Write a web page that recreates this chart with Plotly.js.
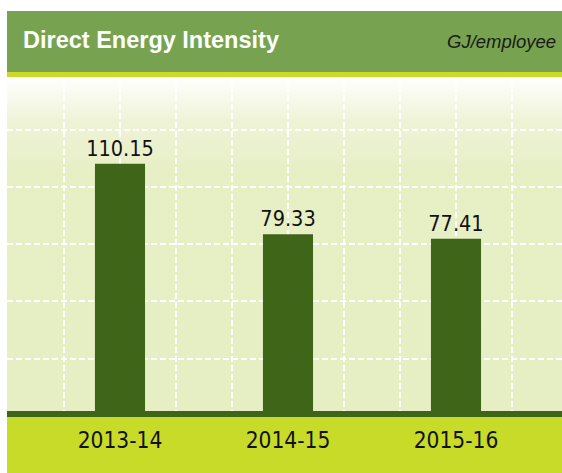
<!DOCTYPE html>
<html>
<head>
<meta charset="utf-8">
<script src="https://cdn.plot.ly/plotly-3.0.1.min.js"></script>
<style>
  html, body { margin: 0; padding: 0; background: #ffffff; }
  #bg { position: absolute; left: 7px; top: 77px; width: 555px; height: 339px;
        background: linear-gradient(to bottom, #ffffff 0px, #eef3d6 45px, #e7efc5 95px, #e6eec4 100%); }
  #chart { position: absolute; left: 0; top: 0; width: 562px; height: 473px; }
</style>
</head>
<body>
<div id="bg"></div>
<div id="chart"></div>
<script>
const categories = ["2013-14", "2014-15", "2015-16"];
const intensity = [110.15, 79.33, 77.41];
const chartTitle = "Direct Energy Intensity";
const unitLabel = "GJ/employee";

const positions = categories.map((c, i) => i);

const narrow = "'Liberation Sans Narrow', 'DejaVu Sans Condensed', 'Liberation Sans', sans-serif";

const trace = {
  type: "bar",
  x: positions,
  y: intensity,
  marker: { color: "#3f6519", line: { width: 0 } },
  texttemplate: "%{y:.2f}",
  textposition: "outside",
  constraintext: "none",
  cliponaxis: false,
  textfont: { family: narrow, size: 21.5, color: "#111111" },
  hoverinfo: "skip"
};

const grid = { color: "#ffffff", dash: "6px,3px" };

const layout = {
  width: 562,
  height: 473,
  margin: { l: 7, r: 0, t: 77, b: 57, pad: 0 },
  paper_bgcolor: "rgba(0,0,0,0)",
  plot_bgcolor: "rgba(0,0,0,0)",
  showlegend: false,
  bargap: 0.702,
  title: {
    text: "<b>" + chartTitle + "</b>",
    font: { family: "'Liberation Sans', Arial, sans-serif", size: 23.5, color: "#ffffff" },
    xref: "container", yref: "container",
    x: 23 / 562, xanchor: "left",
    y: 1 - 40 / 473, yanchor: "middle"
  },
  annotations: [{
    text: "<i>" + unitLabel + "</i>",
    xref: "paper", yref: "paper",
    x: 1, xanchor: "right", xshift: -4,
    y: 1, yanchor: "middle", yshift: 36,
    showarrow: false,
    font: { family: "'Liberation Sans', Arial, sans-serif", size: 18.5, color: "#1a1a1a" }
  }],
  xaxis: {
    type: "linear",
    range: [-0.6726, 2.631],
    tickvals: positions,
    ticktext: categories,
    ticks: "",
    showline: false,
    zeroline: false,
    showgrid: true,
    gridcolor: grid.color, gridwidth: 2, griddash: grid.dash,
    minor: { dtick: 1 / 3, tick0: 0, showgrid: true, gridcolor: grid.color, gridwidth: 2, griddash: grid.dash, ticks: "" },
    tickfont: { family: narrow, size: 22.5, color: "#111111" },
    ticklabelstandoff: 8,
    fixedrange: true
  },
  yaxis: {
    range: [0, 148],
    dtick: 25,
    tick0: 0,
    showticklabels: false,
    ticks: "",
    zeroline: false,
    showline: false,
    showgrid: true,
    gridcolor: grid.color, gridwidth: 2, griddash: grid.dash,
    fixedrange: true
  },
  shapes: [
    { type: "rect", layer: "below", xref: "paper", x0: 0, x1: 1,
      yref: "paper", ysizemode: "pixel", yanchor: 1, y0: 5, y1: 66,
      fillcolor: "#77a350", line: { width: 0 } },
    { type: "rect", layer: "below", xref: "paper", x0: 0, x1: 1,
      yref: "paper", ysizemode: "pixel", yanchor: 1, y0: 0, y1: 5,
      fillcolor: "#c9da2a", line: { width: 0 } },
    { type: "rect", layer: "below", xref: "paper", x0: 0, x1: 1,
      yref: "paper", ysizemode: "pixel", yanchor: 0, y0: -57, y1: -1,
      fillcolor: "#c9db29", line: { width: 0 } },
    { type: "rect", layer: "above", xref: "paper", x0: 0, x1: 1,
      yref: "paper", ysizemode: "pixel", yanchor: 0, y0: -1, y1: 5,
      fillcolor: "#3f6519", line: { width: 0 } }
  ]
};

Plotly.newPlot("chart", [trace], layout, { displayModeBar: false, staticPlot: true });
</script>
</body>
</html>
